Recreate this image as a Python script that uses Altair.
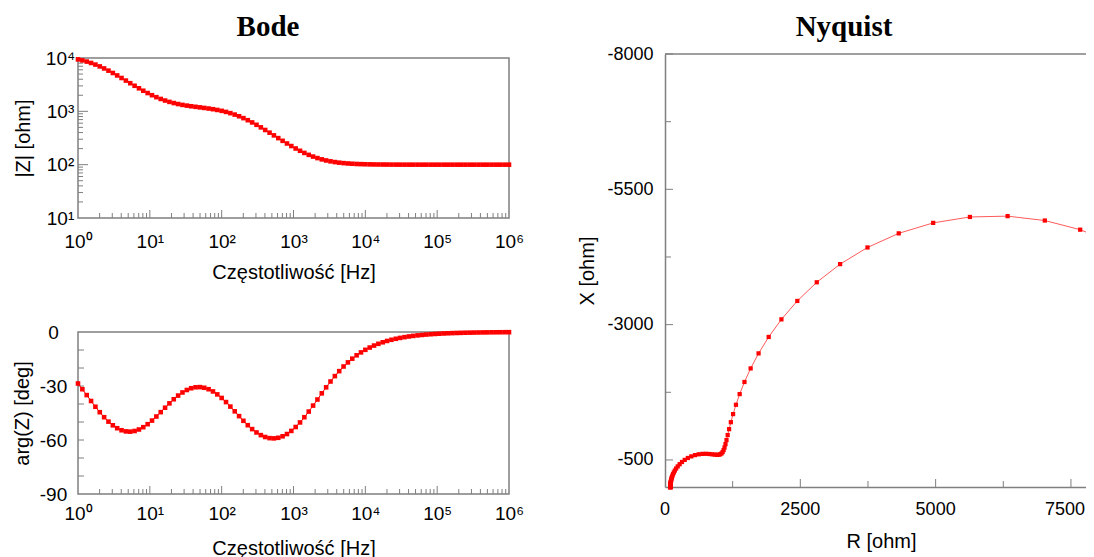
import altair as alt
import pandas as pd

# ---------------- data ----------------
freq_hz = [1, 1.150, 1.322, 1.520, 1.748, 2.009, 2.310, 2.656, 3.054, 3.511,
           4.037, 4.642, 5.337, 6.136, 7.055, 8.111, 9.326, 10.72, 12.33, 14.17,
           16.30, 18.74, 21.54, 24.77, 28.48, 32.75, 37.65, 43.29, 49.77, 57.22,
           65.79, 75.65, 86.97, 100.0, 115.0, 132.2, 152.0, 174.8, 200.9, 231.0,
           265.6, 305.4, 351.1, 403.7, 464.2, 533.7, 613.6, 705.5, 811.1, 932.6,
           1072, 1233, 1417, 1630, 1874, 2154, 2477, 2848, 3275, 3765,
           4329, 4977, 5722, 6579, 7565, 8697, 10000, 11500, 13220, 15200,
           17480, 20090, 23100, 26560, 30540, 35110, 40370, 46420, 53370, 61360,
           70550, 81110, 93260, 107200, 123300, 141700, 163000, 187400, 215400, 247700,
           284800, 327500, 376500, 432900, 497700, 572200, 657900, 756500, 869700, 1000000]

resistance_ohm = [8269.5, 7670.7, 7017.3, 6329.9, 5633.6, 4955.1, 4318.3, 3741.5, 3235.4, 2803.8,
                  2444.5, 2151.1, 1915.6, 1728.8, 1582.3, 1468.1, 1379.5, 1311.0, 1257.9, 1216.6,
                  1184.1, 1157.9, 1136.3, 1117.5, 1100.1, 1082.9, 1064.8, 1044.6, 1021.1, 993.2,
                  959.9, 920.1, 873.3, 819.5, 759.0, 693.2, 624.1, 554.2, 486.2, 422.3,
                  364.5, 313.9, 270.6, 234.7, 205.3, 181.8, 163.1, 148.5, 137.1, 128.3,
                  121.6, 116.4, 112.5, 109.5, 107.2, 105.4, 104.1, 103.1, 102.4, 101.8,
                  101.3, 101.0, 100.8, 100.6, 100.4, 100.3, 100.3, 100.2, 100.1, 100.1,
                  100.1, 100.1, 100.0, 100.0, 100.0, 100.0, 100.0, 100.0, 100.0, 100.0,
                  100.0, 100.0, 100.0, 100.0, 100.0, 100.0, 100.0, 100.0, 100.0, 100.0,
                  100.0, 100.0, 100.0, 100.0, 100.0, 100.0, 100.0, 100.0, 100.0, 100.0]

reactance_ohm = [-4510.9, -4754.1, -4923.4, -5004.2, -4989.2, -4879.9, -4686.3, -4425.7, -4117.6, -3782.2,
                 -3437.4, -3097.1, -2772.1, -2468.7, -2190.8, -1940.1, -1716.6, -1519.3, -1346.7, -1197.1,
                 -1068.6, -959.4, -867.6, -791.8, -730.5, -682.3, -646.0, -620.4, -604.3, -596.3,
                 -594.8, -598.0, -603.8, -609.6, -613.1, -611.9, -604.2, -588.9, -565.9, -536.1,
                 -500.8, -462.0, -421.3, -380.6, -341.1, -303.7, -269.0, -237.2, -208.6, -182.9,
                 -160.1, -139.9, -122.1, -106.5, -92.8, -80.9, -70.4, -61.3, -53.3, -46.4,
                 -40.4, -35.1, -30.6, -26.6, -23.1, -20.1, -17.5, -15.23, -13.24, -11.52,
                 -10.02, -8.713, -7.578, -6.591, -5.733, -4.986, -4.336, -3.772, -3.280, -2.853,
                 -2.481, -2.158, -1.877, -1.633, -1.420, -1.235, -1.074, -0.934, -0.813, -0.707,
                 -0.615, -0.535, -0.465, -0.404, -0.352, -0.306, -0.266, -0.231, -0.201, -0.175]

freq_decades = [1, 10, 100, 1000, 10000, 100000, 1000000]
mag_decades = [10, 100, 1000, 10000]
minor_mult = [2, 3, 4, 5, 6, 7, 8, 9]
phase_labels = [-90, -60, -30, 0]
phase_ticks = [-80, -70, -60, -50, -40, -30, -20, -10]
nyq_x_major = [2500, 5000, 7500]
nyq_x_minor = [1250, 3750, 6250]
nyq_x_labels = [0, 2500, 5000, 7500]
nyq_y_major = [-8000, -5500, -3000, -500]
nyq_y_minor = [-6750, -4250, -1750]
panel_titles = ["Bode", "Nyquist"]

df = pd.DataFrame({"f": freq_hz, "R": resistance_ohm, "X": reactance_ohm})
freq_minor = [m * d for d in freq_decades[:-1] for m in minor_mult]
mag_minor = [m * d for d in mag_decades[:-1] for m in minor_mult]

# ---------------- layout (pixels inside the single view) ----------------
VW, VH = 1078, 549
B_L, B_R = 70, 501            # Bode plots left/right
M_T, M_B = 50, 210            # |Z| plot top/bottom
P_T, P_B = 324, 486           # phase plot top/bottom
N_L, N_R = 657, 1086          # Nyquist left/right (right part runs past the page edge)
N_T, N_B = 46, 479            # Nyquist top/bottom
N_XMAX = (N_R - N_L) * 8000 / (N_B - N_T)

RED = "#ff0000"
GRAY = "#7f7f7f"
SANS = "Liberation Sans"
SERIF = "Liberation Serif"
LBL_B = 19
LBL_N = 18
TTL = 20

SUP = "'10' + ['\u2070','\u00b9','\u00b2','\u00b3','\u2074','\u2075','\u2076'][round(log(datum.value) / LN10)]"
PLAIN = "'' + datum.value"

x_mag = alt.Scale(type="log", domain=[1, 1000000], range=[B_L, B_R], nice=False)
y_mag = alt.Scale(type="log", domain=[10, 10000], range=[M_B, M_T], nice=False)
x_ph = alt.Scale(type="log", domain=[1, 1000000], range=[B_L, B_R], nice=False)
y_ph = alt.Scale(domain=[-90, 0], range=[P_B, P_T], nice=False, zero=False)
x_ny = alt.Scale(domain=[0, N_XMAX], range=[N_L, N_R], nice=False, zero=False)
y_ny = alt.Scale(domain=[-8000, 0], range=[N_T, N_B], nice=False, zero=False)

common = dict(ticks=False, grid=False, labelColor="black", labelFlush=False,
              labelOverlap=False, labelBaseline="middle", titleFont=SANS,
              titleFontSize=TTL, titleFontWeight="normal", titleColor="black",
              titleBaseline="middle", titleAlign="center", labelFont=SANS)


def freq_axis(bottom, pad):
    return alt.Axis(orient="bottom", offset=bottom - VH, values=freq_decades, labelExpr=SUP,
                    domain=False, labelFontSize=LBL_B, labelPadding=pad, labelAlign="center",
                    title="Częstotliwość [Hz]", titleX=(B_L + B_R) / 2, titleY=54, **common)


AX_MAG_X = freq_axis(M_B, 23)
AX_PH_X = freq_axis(P_B, 19)
AX_MAG_Y = alt.Axis(orient="left", offset=-B_L, values=mag_decades, labelExpr=SUP, domain=False,
                    labelFontSize=LBL_B, labelPadding=18, labelAlign="center",
                    title="|Z| [ohm]", titleX=-55, titleY=(M_T + M_B) / 2, **common)
AX_PH_Y = alt.Axis(orient="left", offset=-B_L, values=phase_labels, labelExpr=PLAIN, domain=False,
                   labelFontSize=LBL_B, labelPadding=25, labelAlign="center",
                   title="arg(Z) [deg]", titleX=-56, titleY=(P_T + P_B) / 2, **common)
AX_N_X = alt.Axis(orient="bottom", offset=N_B - VH, values=nyq_x_labels, labels=False,
                  domain=True, domainColor=GRAY, domainWidth=1.5,
                  title="R [ohm]", titleX=873, titleY=54, **common)
AX_N_Y = alt.Axis(orient="left", offset=-N_L, values=nyq_y_major, labelExpr=PLAIN,
                  domain=True, domainColor=GRAY, domainWidth=1.5,
                  labelFontSize=LBL_N, labelPadding=12, labelAlign="right",
                  title="X [ohm]", titleX=-78, titleY=(N_T + N_B) / 2, **common)


def vticks(values, scale, axis, base_y, length):
    return alt.Chart(pd.DataFrame({"v": values})).mark_rule(color=GRAY, strokeWidth=1).encode(
        x=alt.X("v:Q", scale=scale, axis=axis), y=alt.value(base_y), y2=alt.value(base_y - length))


def hticks(values, scale, axis, base_x, length):
    return alt.Chart(pd.DataFrame({"v": values})).mark_rule(color=GRAY, strokeWidth=1).encode(
        y=alt.Y("v:Q", scale=scale, axis=axis), x=alt.value(base_x), x2=alt.value(base_x + length))


def frame(xs, ys, ax_x, ax_y, x0, x1, y0, y1):
    return alt.Chart(pd.DataFrame({"a": [0]})).mark_rect(
        filled=False, stroke=GRAY, strokeWidth=1.5, fill="transparent").encode(
        x=alt.X(datum=x0, scale=xs, axis=ax_x), x2=alt.X2(datum=x1),
        y=alt.Y(datum=y0, scale=ys, axis=ax_y), y2=alt.Y2(datum=y1))


def x_labels(values, dx):
    d = pd.DataFrame({"v": values, "s": [str(v) for v in values]})
    return alt.Chart(d).mark_text(font=SANS, fontSize=LBL_N, color="black", align="center",
                                  baseline="middle", dx=dx).encode(
        x=alt.X("v:Q", scale=x_ny, axis=AX_N_X), y=alt.value(N_B + 23), text="s:N")


base = alt.Chart(df).transform_calculate(
    Z="sqrt(datum.R * datum.R + datum.X * datum.X)",
    phi="atan2(datum.X, datum.R) * 180 / PI",
)

# ---------------- Bode |Z| ----------------
mag_enc = dict(x=alt.X("f:Q", scale=x_mag, axis=AX_MAG_X),
               y=alt.Y("Z:Q", scale=y_mag, axis=AX_MAG_Y))
mag = alt.layer(
    vticks(freq_decades[1:-1], x_mag, AX_MAG_X, M_B, 8),
    vticks(freq_minor, x_mag, AX_MAG_X, M_B, 5),
    hticks(mag_decades[1:-1], y_mag, AX_MAG_Y, B_L, 10),
    hticks(mag_minor, y_mag, AX_MAG_Y, B_L, 5),
    frame(x_mag, y_mag, AX_MAG_X, AX_MAG_Y, 1, 1000000, 10, 10000),
    base.mark_line(color=RED, strokeWidth=1).encode(**mag_enc),
    base.mark_square(color=RED, size=21, opacity=1).encode(**mag_enc),
)

# ---------------- Bode phase ----------------
ph_enc = dict(x=alt.X("f:Q", scale=x_ph, axis=AX_PH_X),
              y=alt.Y("phi:Q", scale=y_ph, axis=AX_PH_Y))
phase = alt.layer(
    vticks(freq_decades[1:-1], x_ph, AX_PH_X, P_B, 8),
    vticks(freq_minor, x_ph, AX_PH_X, P_B, 5),
    hticks(phase_ticks, y_ph, AX_PH_Y, B_L, 6),
    frame(x_ph, y_ph, AX_PH_X, AX_PH_Y, 1, 1000000, -90, 0),
    base.mark_line(color=RED, strokeWidth=1).encode(**ph_enc),
    base.mark_square(color=RED, size=21, opacity=1).encode(**ph_enc),
)

# ---------------- Nyquist ----------------
ny_enc = dict(x=alt.X("R:Q", scale=x_ny, axis=AX_N_X),
              y=alt.Y("X:Q", scale=y_ny, axis=AX_N_Y))
top_border = alt.Chart(pd.DataFrame({"a": [0]})).mark_rule(color=GRAY, strokeWidth=1.5).encode(
    x=alt.X(datum=0, scale=x_ny, axis=AX_N_X), x2=alt.X2(datum=N_XMAX),
    y=alt.Y(datum=-8000, scale=y_ny, axis=AX_N_Y))
nyq = alt.layer(
    vticks(nyq_x_major, x_ny, AX_N_X, N_B, 8),
    vticks(nyq_x_minor, x_ny, AX_N_X, N_B, 6),
    hticks(nyq_y_major, y_ny, AX_N_Y, N_L, 8),
    hticks(nyq_y_minor, y_ny, AX_N_Y, N_L, 6),
    top_border,
    alt.Chart(df).mark_line(color="#ff5a5a", strokeWidth=1, clip=True).encode(
        order=alt.Order("f:Q"), **ny_enc),
    alt.Chart(df).mark_square(color=RED, size=18, opacity=1, clip=True).encode(**ny_enc),
    x_labels(nyq_x_labels[:-1], 0),
    x_labels(nyq_x_labels[-1:], -6),
)

# ---------------- panel titles ----------------
titles = alt.Chart(pd.DataFrame({"t": panel_titles, "cx": [260, 836]})).mark_text(
    font=SERIF, fontSize=29, fontWeight="bold", color="black",
    align="center", baseline="alphabetic").encode(
    x=alt.X("cx:Q", scale=None), y=alt.value(28), text="t:N")

chart = alt.layer(mag, phase, nyq, titles).resolve_scale(
    x="independent", y="independent"
).resolve_axis(x="independent", y="independent").properties(
    width=VW, height=VH, padding=0, background="white",
    autosize=alt.AutoSizeParams(type="none"),
).configure_view(strokeWidth=0, stroke="transparent")

chart.save("out.html", embed_options={"renderer": "svg", "actions": False})
